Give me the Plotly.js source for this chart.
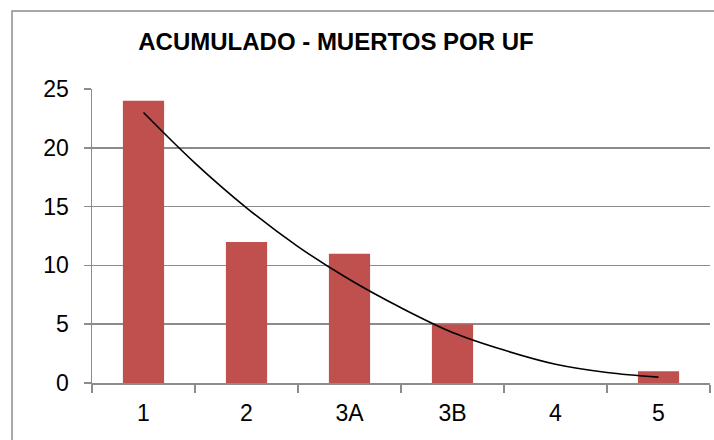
<!DOCTYPE html>
<html>
<head>
<meta charset="utf-8">
<script src="https://cdn.plot.ly/plotly-3.0.1.min.js"></script>
<style>
  html, body { margin: 0; padding: 0; background: #ffffff; }
  #chart { width: 714px; height: 440px; }
</style>
</head>
<body>
<div id="chart"></div>
<script>
// Data
const categories = ["1", "2", "3A", "3B", "4", "5"];
const muertos = [24, 12, 11, 5, 0, 1];

// Trend line (polynomial trend)
const trendX = [1, 1.5, 2, 2.5, 3, 3.5, 4, 4.5, 5, 5.5, 6];
const trendY = [23.0, 18.7, 14.9, 11.6, 8.8, 6.4, 4.3, 2.8, 1.6, 0.9, 0.5];

const titleText = "ACUMULADO - MUERTOS POR UF";
const yTicks = [0, 5, 10, 15, 20, 25];

const gray = "#8c8c8c";
const font = "Liberation Sans, Arial, sans-serif";

const bars = {
  type: "bar",
  x: categories,
  y: muertos,
  width: 0.4,
  marker: { color: "#C0504D", line: { width: 0 } },
  hoverinfo: "x+y",
  showlegend: false
};

const trend = {
  type: "scatter",
  mode: "lines",
  x: trendX,
  y: trendY,
  xaxis: "x2",
  yaxis: "y",
  line: { color: "#000000", width: 1.6, shape: "spline", smoothing: 1 },
  hoverinfo: "skip",
  showlegend: false
};

const layout = {
  width: 714,
  height: 440,
  margin: { l: 92, r: 4, t: 89, b: 57 },
  paper_bgcolor: "#ffffff",
  plot_bgcolor: "#ffffff",
  font: { family: font, size: 23, color: "#000000" },
  title: {
    text: titleText,
    font: { family: font, size: 24, color: "#000000", weight: "bold" },
    x: 0.4706, xanchor: "center", xref: "container",
    y: 0.905, yanchor: "middle", yref: "container"
  },
  bargap: 0.6,
  xaxis: {
    type: "category",
    categoryorder: "array",
    categoryarray: categories,
    range: [-0.5, 5.5],
    tickson: "boundaries",
    ticks: "outside",
    ticklen: 8,
    tickwidth: 1.5,
    tickcolor: gray,
    showline: true,
    linecolor: gray,
    linewidth: 1.5,
    showgrid: false,
    zeroline: false,
    ticklabelstandoff: 9,
    tickfont: { family: font, size: 23, color: "#000000" },
    fixedrange: true
  },
  xaxis2: {
    overlaying: "x",
    range: [0.5, 6.5],
    visible: false,
    fixedrange: true
  },
  yaxis: {
    range: [0, 25],
    tickvals: yTicks,
    ticks: "outside",
    ticklen: 7,
    tickwidth: 1.5,
    tickcolor: gray,
    showline: true,
    linecolor: gray,
    linewidth: 1.5,
    showgrid: true,
    gridcolor: gray,
    gridwidth: 1.5,
    zeroline: false,
    ticklabelstandoff: 10,
    tickfont: { family: font, size: 23, color: "#000000" },
    fixedrange: true
  },
  shapes: [{
    type: "rect",
    xref: "paper", yref: "paper",
    x0: -0.1294, x1: 1.2,
    y0: -0.4, y1: 1.2653,
    line: { color: gray, width: 1.5 },
    fillcolor: "rgba(0,0,0,0)",
    layer: "above"
  }]
};

Plotly.newPlot("chart", [bars, trend], layout, { displayModeBar: false, staticPlot: true });
</script>
</body>
</html>
